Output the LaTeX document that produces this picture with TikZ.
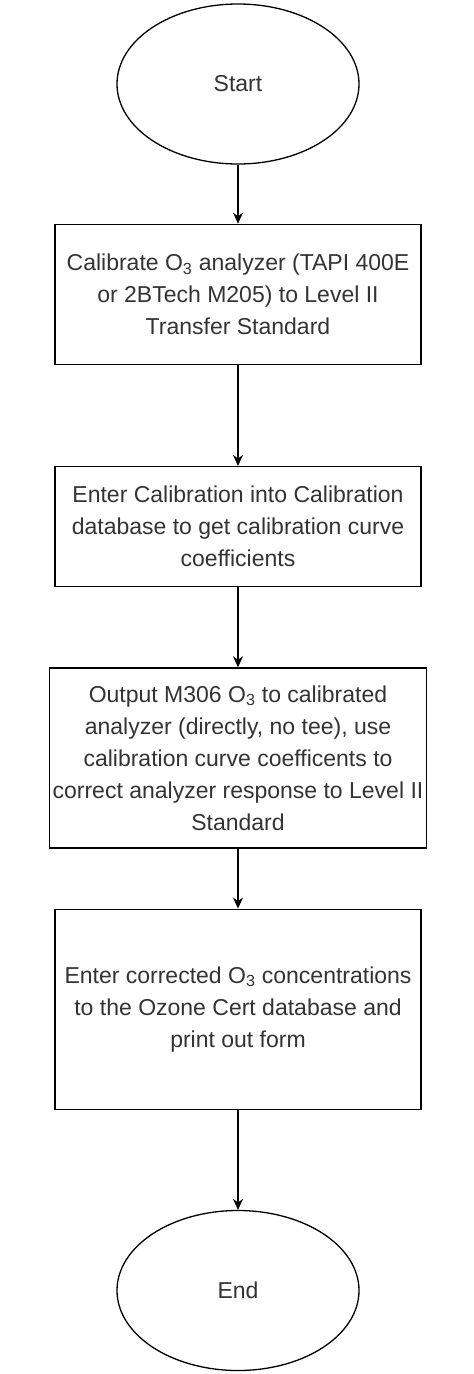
\documentclass[tikz,border=0pt]{standalone}
\usepackage{fontspec}
\setmainfont{Liberation Sans}
\usepackage{tikz}
\usetikzlibrary{positioning,shapes.geometric,arrows.meta}
\definecolor{ink}{HTML}{333333}
\tikzset{
  term/.style={ellipse,draw=black,line width=1.3pt,text=ink,inner sep=0pt,
    minimum width=242pt,minimum height=160pt,font=\fontsize{23}{32}\selectfont},
  box/.style={rectangle,draw=black,line width=1.3pt,text=ink,align=center,
    inner sep=0pt,minimum width=366pt,font=\fontsize{23}{32}\selectfont},
  fl/.style={-{Stealth[length=11pt,width=10pt]},draw=black,line width=1.3pt},
}

\begin{document}
\begin{tikzpicture}
  \useasboundingbox (0,0) rectangle (474pt,-1374pt);
  \node[term] (start) at (238pt,-84pt) {Start};
  \node[box,minimum height=140pt,below=59pt of start] (cal) {Calibrate O\textsubscript{3} analyzer (TAPI 400E\\or 2BTech M205) to Level II\\Transfer Standard};
  \node[box,minimum height=120pt,below=101pt of cal] (db) {Enter Calibration into Calibration\\database to get calibration curve\\coefficients};
  \node[box,minimum height=180pt,inner xsep=3pt,below=80pt of db] (out) {Output M306 O\textsubscript{3} to calibrated\\analyzer (directly, no tee), use\\calibration curve coefficents to\\correct analyzer response to Level II\\Standard};
  \node[box,minimum height=200pt,below=60pt of out] (cert) {Enter corrected O\textsubscript{3} concentrations\\to the Ozone Cert database and\\print out form};
  \node[term,below=100pt of cert] (end) {End};
  \draw[fl] (start)--(cal); \draw[fl] (cal)--(db); \draw[fl] (db)--(out);
  \draw[fl] (out)--(cert); \draw[fl] (cert)--(end);
\end{tikzpicture}
\end{document}
